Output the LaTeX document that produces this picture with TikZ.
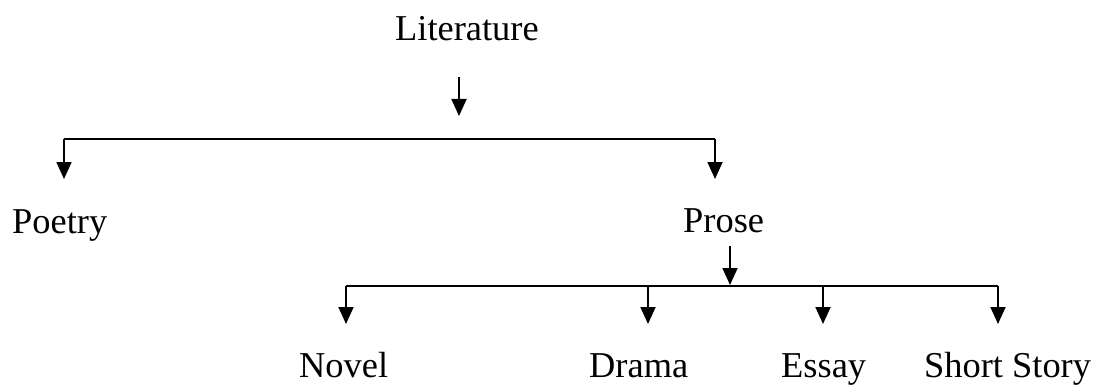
\documentclass[tikz,border=0pt]{standalone}
\usepackage{fontspec}
\setmainfont{Liberation Serif}
\usetikzlibrary{arrows.meta}
\begin{document}
\begin{tikzpicture}[x=1pt,y=1pt,
  label/.style={anchor=base west,inner sep=0pt,font=\fontsize{36.4}{40}\selectfont},
  conn/.style={line width=1.8pt},
  arr/.style={conn,-{Triangle[length=17pt,width=15pt]}}]
\useasboundingbox (0,0) rectangle (1100,-385);
% text nodes
\node[label] (lit) at (395,-41) {Literature};
\node[label] (poetry) at (12,-233) {Poetry};
\node[label] (prose) at (683,-232) {Prose};
\node[label] (novel) at (299,-377) {Novel};
\node[label] (drama) at (589,-377) {Drama};
\node[label] (essay) at (781,-377) {Essay};
\node[label] (short) at (924,-377) {Short Story};
% connector points
\coordinate (l0) at (459,-77);
\coordinate (l1) at (459,-116);
\coordinate (b1l) at (64,-139);
\coordinate (b1r) at (715,-139);
\coordinate (pt) at (64,-179);
\coordinate (prt) at (715,-179);
\coordinate (p0) at (730,-246);
\coordinate (p1) at (730,-285);
\coordinate (b2l) at (346,-286);
\coordinate (b2r) at (998,-286);
\coordinate (d0) at (648,-286);
\coordinate (e0) at (823,-286);
\coordinate (nt) at (346,-324);
\coordinate (dt) at (648,-324);
\coordinate (et) at (823,-324);
\coordinate (st) at (998,-324);
% connectors
\draw[arr] (l0) -- (l1);
\draw[conn] (b1l) -- (b1r);
\draw[arr] (b1l) -- (pt);
\draw[arr] (b1r) -- (prt);
\draw[arr] (p0) -- (p1);
\draw[conn] (b2l) -- (b2r);
\draw[arr] (b2l) -- (nt);
\draw[arr] (d0) -- (dt);
\draw[arr] (e0) -- (et);
\draw[arr] (b2r) -- (st);
\end{tikzpicture}
\end{document}
